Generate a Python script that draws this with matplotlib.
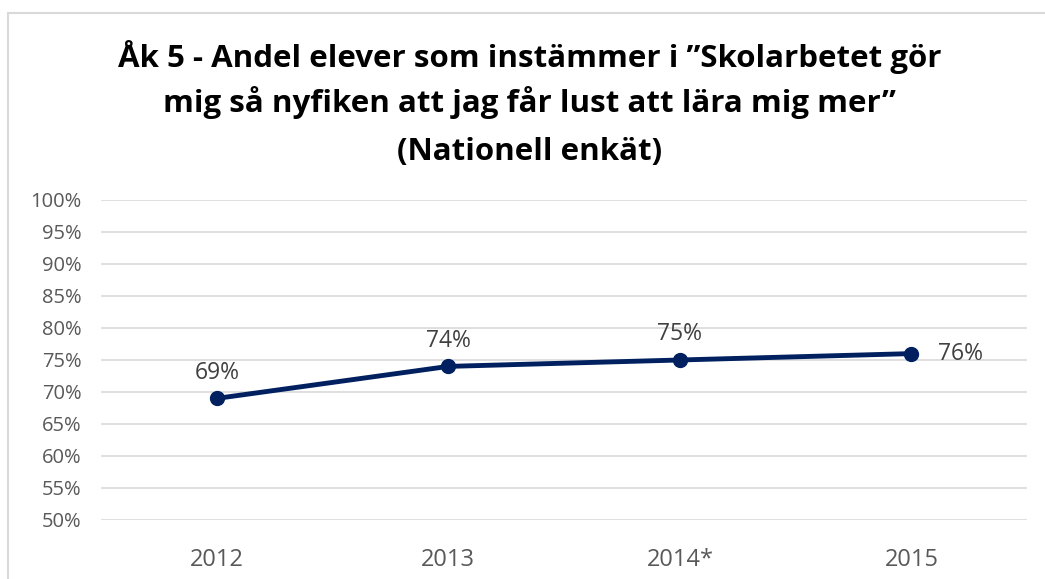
import matplotlib.pyplot as plt
from matplotlib.patches import Rectangle

years = ['2012', '2013', '2014*', '2015']
andel = [69, 74, 75, 76]
yticks = list(range(50, 101, 5))
title_lines = ['Åk 5 - Andel elever som instämmer i ”Skolarbetet gör',
               'mig så nyfiken att jag får lust att lära mig mer”',
               '(Nationell enkät)']


def main():
    plt.rcParams['font.family'] = ['Open Sans', 'DejaVu Sans']
    fig = plt.figure(figsize=(10.45, 5.79), dpi=100)
    ax = fig.add_axes([0.0967, 0.1019, 0.8863, 0.5527])

    # outer chart border (cropped at right and bottom)
    fig.patches.append(Rectangle((8 / 1045, -0.05), 1.1, 1 - 13 / 579 + 0.05,
                                 transform=fig.transFigure, fill=False,
                                 edgecolor='#d9d9d9', linewidth=1.5))

    x = list(range(len(years)))
    ax.plot(x, andel, color='#002060', linewidth=3.5, marker='o', markersize=10, zorder=3)

    for i, v in enumerate(andel):
        if i == len(andel) - 1:
            ax.annotate(f'{v}%', (i, v), xytext=(19, 0), textcoords='offset points',
                        ha='left', va='center', fontsize=16.5, color='#404040')
        else:
            ax.annotate(f'{v}%', (i, v), xytext=(0, 10), textcoords='offset points',
                        ha='center', va='bottom', fontsize=16.5, color='#404040')

    ax.set_xlim(-0.5, len(years) - 0.5)
    ax.set_ylim(50, 100)
    ax.set_yticks(yticks)
    ax.set_yticklabels([f'{t}%' for t in yticks])
    ax.set_xticks(x)
    ax.set_xticklabels(years)
    ax.tick_params(axis='both', length=0, labelcolor='#595959')
    ax.tick_params(axis='x', pad=20, labelsize=17)
    ax.tick_params(axis='y', pad=14, labelsize=14.5)
    ax.grid(axis='y', color='#d9d9d9', linewidth=1.2)
    ax.set_axisbelow(True)
    for s in ax.spines.values():
        s.set_visible(False)

    # title, one line at a time
    for line, base_px in zip(title_lines, [67, 112, 160]):
        fig.text(0.507, 1 - base_px / 579, line, ha='center', va='baseline',
                 fontsize=22.5, fontweight='bold', color='black')

    fig.savefig('out.png', dpi=100)


if __name__ == '__main__':
    main()
